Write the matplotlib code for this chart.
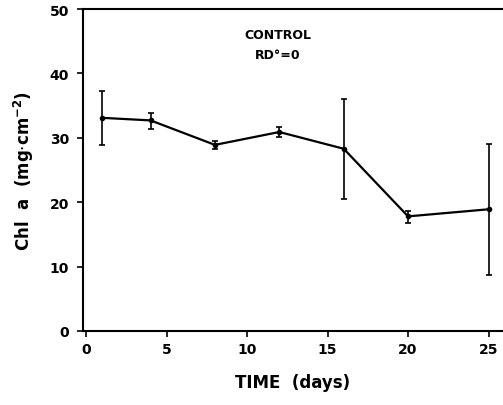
import matplotlib
matplotlib.use("Agg")
import matplotlib.pyplot as plt

days = [1, 4, 8, 12, 16, 20, 25]
chl = [33.1, 32.7, 28.9, 30.9, 28.3, 17.8, 18.9]
err_hi = [37.3, 33.9, 29.5, 31.7, 36.1, 18.7, 29.1]
err_lo = [28.9, 31.4, 28.3, 30.1, 20.5, 16.8, 8.7]
xticks = [0, 5, 10, 15, 20, 25]
yticks = [0, 10, 20, 30, 40, 50]

yerr = [[c - l for c, l in zip(chl, err_lo)], [h - c for c, h in zip(chl, err_hi)]]

fig = plt.figure(figsize=(5.03, 4.06), dpi=100)
ax = fig.add_axes([83/503, 1-332/406, 1-83/503, (332-10)/406])
ax.errorbar(days, chl, yerr=yerr, color='black', lw=1.6, elinewidth=1.2,
            capsize=2.5, capthick=1.2, marker='o', markersize=3)
ax.set_xlim(-0.2, 25.9)
ax.set_ylim(0, 50)
ax.set_xticks(xticks)
ax.set_yticks(yticks)
ax.spines['right'].set_visible(False)
for s in ['left', 'bottom', 'top']:
    ax.spines[s].set_linewidth(1.5)
ax.tick_params(direction='out', length=4, width=1.2, labelsize=10)
for lab in ax.get_xticklabels() + ax.get_yticklabels():
    lab.set_fontweight('bold')
ax.tick_params(axis='x', pad=4)
ax.tick_params(axis='y', pad=6)
ax.set_xlabel('TIME  (days)', fontsize=12, fontweight='bold', labelpad=12)
ax.set_ylabel('Chl  a  (mg$\\cdot$cm$^{\\mathbf{-2}}$)', fontsize=12, fontweight='bold', labelpad=10)
ax.text(11.9, 46.1, 'CONTROL', ha='center', va='center', fontsize=9, fontweight='bold')
ax.text(11.9, 43.0, 'RD°=0', ha='center', va='center', fontsize=9, fontweight='bold')
fig.savefig('out.png', dpi=100)
